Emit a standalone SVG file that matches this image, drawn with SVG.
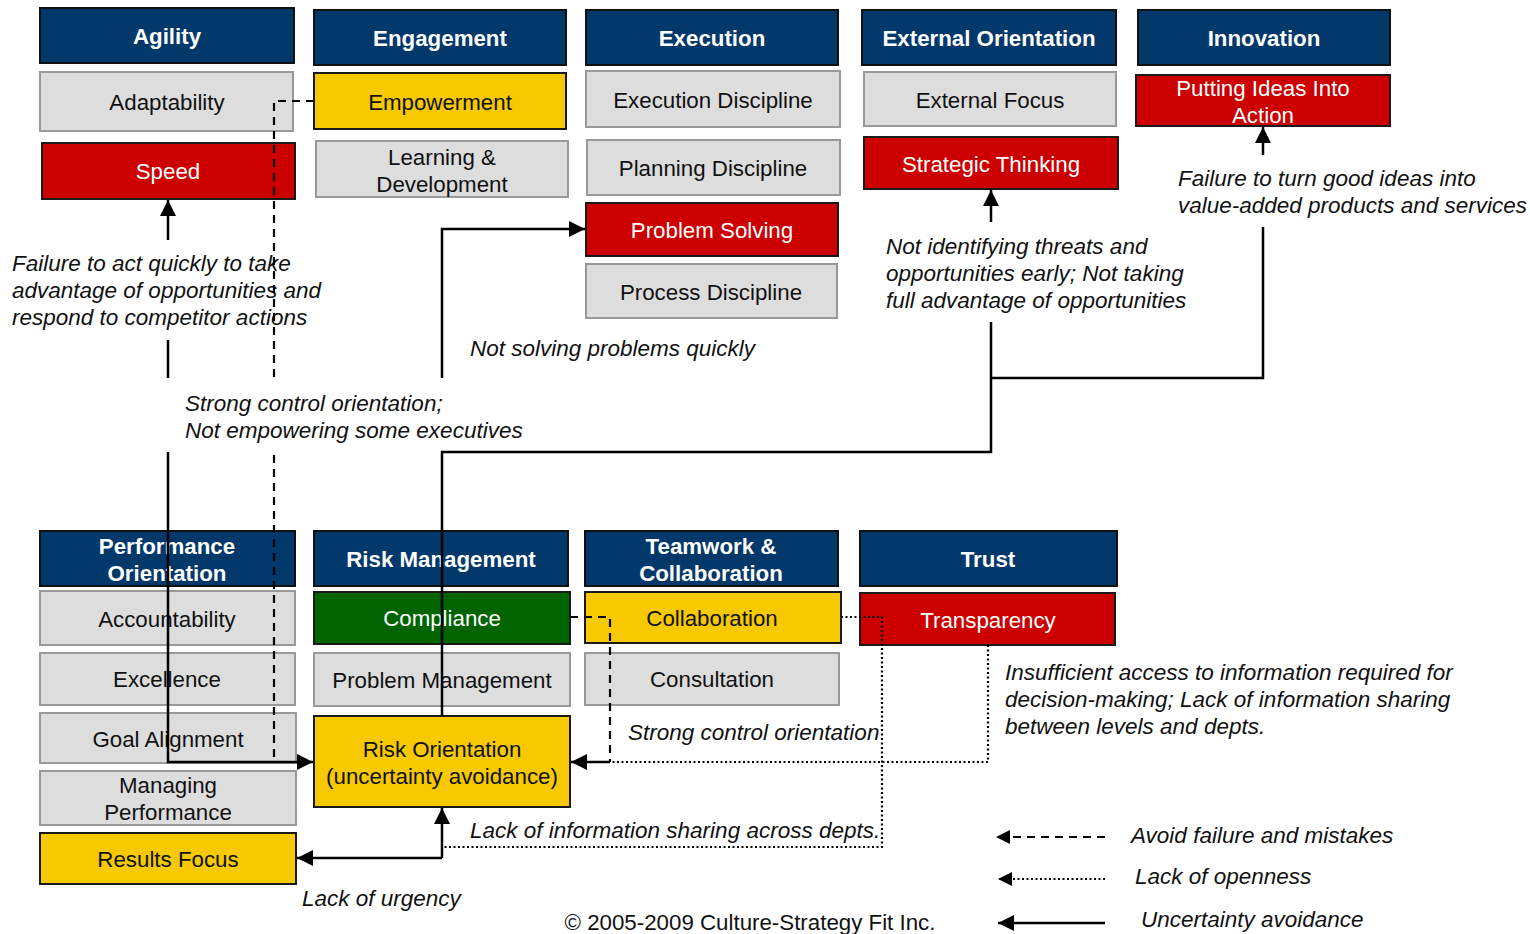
<svg xmlns="http://www.w3.org/2000/svg" width="1530" height="934" viewBox="0 0 1530 934">
<defs>
<style>
.hd{fill:#03386A;stroke:#111;stroke-width:2}
.gr{fill:#DDDDDD;stroke:#999;stroke-width:2}
.rd{fill:#CC0000;stroke:#1a1a1a;stroke-width:2}
.yl{fill:#F7C900;stroke:#1a1a1a;stroke-width:2}
.gn{fill:#006400;stroke:#1a1a1a;stroke-width:2}
text{font-family:"Liberation Sans",Arial,sans-serif;font-size:22.3px}
.ht{fill:#fff;font-weight:bold;text-anchor:middle}
.wt{fill:#fff;text-anchor:middle}
.bt{fill:#111;text-anchor:middle}
.it{fill:#111;font-style:italic;font-size:22.5px}
.sol{fill:none;stroke:#000;stroke-width:2.5}
.dsh{fill:none;stroke:#000;stroke-width:2.2;stroke-dasharray:8,6}
.dot{fill:none;stroke:#000;stroke-width:2.2;stroke-dasharray:2,2.5}
</style>
<marker id="ah" viewBox="0 0 10 10" refX="10" refY="5" markerWidth="6.5" markerHeight="6.5" markerUnits="strokeWidth" orient="auto">
<path d="M0,0 L10,5 L0,10 z" fill="#000"/>
</marker>
</defs>
<rect width="1530" height="934" fill="#fff"/>

<g id="agility"><rect class="hd" x="40" y="8" width="254" height="55"/><text class="ht" x="167" y="44">Agility</text></g>
<g id="engagement"><rect class="hd" x="314" y="10" width="252" height="55"/><text class="ht" x="440" y="46">Engagement</text></g>
<g id="execution"><rect class="hd" x="586" y="10" width="252" height="55"/><text class="ht" x="712" y="46">Execution</text></g>
<g id="external-orientation"><rect class="hd" x="862" y="10" width="254" height="55"/><text class="ht" x="989" y="46">External Orientation</text></g>
<g id="innovation"><rect class="hd" x="1138" y="10" width="252" height="55"/><text class="ht" x="1264" y="46">Innovation</text></g>

<g id="adaptability"><rect class="gr" x="40" y="72" width="253" height="59"/><text class="bt" x="167" y="110">Adaptability</text></g>
<g id="empowerment"><rect class="yl" x="314" y="73" width="252" height="56"/><text class="bt" x="440" y="110">Empowerment</text></g>
<g id="execution-discipline"><rect class="gr" x="586" y="71" width="254" height="56"/><text class="bt" x="713" y="108">Execution Discipline</text></g>
<g id="external-focus"><rect class="gr" x="864" y="72" width="252" height="54"/><text class="bt" x="990" y="108">External Focus</text></g>
<g id="putting-ideas"><rect class="rd" x="1136" y="75" width="254" height="51"/><text class="wt" x="1263" y="96">Putting Ideas Into</text><text class="wt" x="1263" y="123">Action</text></g>

<g id="speed"><rect class="rd" x="42" y="143" width="253" height="56"/><text class="wt" x="168" y="179">Speed</text></g>
<g id="learning"><rect class="gr" x="316" y="141" width="252" height="56"/><text class="bt" x="442" y="165">Learning &amp;</text><text class="bt" x="442" y="192">Development</text></g>
<g id="planning-discipline"><rect class="gr" x="587" y="140" width="253" height="55"/><text class="bt" x="713" y="176">Planning Discipline</text></g>
<g id="strategic-thinking"><rect class="rd" x="864" y="137" width="254" height="52"/><text class="wt" x="991" y="172">Strategic Thinking</text></g>
<g id="problem-solving"><rect class="rd" x="586" y="203" width="252" height="53"/><text class="wt" x="712" y="238">Problem Solving</text></g>
<g id="process-discipline"><rect class="gr" x="586" y="264" width="251" height="54"/><text class="bt" x="711" y="300">Process Discipline</text></g>

<g id="performance-orientation"><rect class="hd" x="40" y="531" width="255" height="55"/><text class="ht" x="167" y="554">Performance</text><text class="ht" x="167" y="581">Orientation</text></g>
<g id="risk-management"><rect class="hd" x="314" y="531" width="254" height="55"/><text class="ht" x="441" y="567">Risk Management</text></g>
<g id="teamwork"><rect class="hd" x="585" y="531" width="253" height="55"/><text class="ht" x="711" y="554">Teamwork &amp;</text><text class="ht" x="711" y="581">Collaboration</text></g>
<g id="trust"><rect class="hd" x="860" y="531" width="257" height="55"/><text class="ht" x="988" y="567">Trust</text></g>

<g id="accountability"><rect class="gr" x="40" y="591" width="255" height="54"/><text class="bt" x="167" y="627">Accountability</text></g>
<g id="compliance"><rect class="gn" x="314" y="592" width="256" height="52"/><text class="wt" x="442" y="626">Compliance</text></g>
<g id="collaboration"><rect class="yl" x="585" y="592" width="256" height="51"/><text class="bt" x="712" y="626">Collaboration</text></g>
<g id="transparency"><rect class="rd" x="860" y="593" width="255" height="52"/><text class="wt" x="988" y="628">Transparency</text></g>

<g id="excellence"><rect class="gr" x="40" y="653" width="255" height="52"/><text class="bt" x="167" y="687">Excellence</text></g>
<g id="problem-management"><rect class="gr" x="314" y="653" width="256" height="53"/><text class="bt" x="442" y="688">Problem Management</text></g>
<g id="consultation"><rect class="gr" x="585" y="653" width="254" height="52"/><text class="bt" x="712" y="687">Consultation</text></g>

<g id="goal-alignment"><rect class="gr" x="40" y="713" width="256" height="50"/><text class="bt" x="168" y="747">Goal Alignment</text></g>
<g id="risk-orientation"><rect class="yl" x="314" y="716" width="256" height="91"/><text class="bt" x="442" y="757">Risk Orientation</text><text class="bt" x="442" y="784">(uncertainty avoidance)</text></g>
<g id="managing-performance"><rect class="gr" x="40" y="771" width="256" height="54"/><text class="bt" x="168" y="793">Managing</text><text class="bt" x="168" y="820">Performance</text></g>
<g id="results-focus"><rect class="yl" x="40" y="833" width="256" height="51"/><text class="bt" x="168" y="867">Results Focus</text></g>

<g id="labels">
<text class="it" x="12" y="271">Failure to act quickly to take</text>
<text class="it" x="12" y="298">advantage of opportunities and</text>
<text class="it" x="12" y="325">respond to competitor actions</text>
<text class="it" x="185" y="411">Strong control orientation;</text>
<text class="it" x="185" y="438">Not empowering some executives</text>
<text class="it" x="470" y="356">Not solving problems quickly</text>
<text class="it" x="886" y="254">Not identifying threats and</text>
<text class="it" x="886" y="281">opportunities early; Not taking</text>
<text class="it" x="886" y="308">full advantage of opportunities</text>
<text class="it" x="1178" y="186">Failure to turn good ideas into</text>
<text class="it" x="1178" y="213">value-added products and services</text>
<text class="it" x="1005" y="680">Insufficient access to information required for</text>
<text class="it" x="1005" y="707">decision-making; Lack of information sharing</text>
<text class="it" x="1005" y="734">between levels and depts.</text>
<text class="it" x="628" y="740">Strong control orientation</text>
<text class="it" x="470" y="838">Lack of information sharing across depts.</text>
<text class="it" x="302" y="906">Lack of urgency</text>
<text class="it" x="1131" y="843">Avoid failure and mistakes</text>
<text class="it" x="1135" y="884">Lack of openness</text>
<text class="it" x="1141" y="927">Uncertainty avoidance</text>
<text x="750" y="930" text-anchor="middle" fill="#111">© 2005-2009 Culture-Strategy Fit Inc.</text>
</g>

<g id="connectors">
<path class="sol" d="M168,240 V200" marker-end="url(#ah)"/>
<path class="sol" d="M168,340 V378"/>
<path class="sol" d="M168,452 V762 H313" marker-end="url(#ah)"/>
<path class="sol" d="M442,378 V229 H585" marker-end="url(#ah)"/>
<path class="sol" d="M442,716 V452 H991 V322"/>
<path class="sol" d="M991,222 V190" marker-end="url(#ah)"/>
<path class="sol" d="M991,378 H1263 V227"/>
<path class="sol" d="M1263,155 V127" marker-end="url(#ah)"/>
<path class="sol" d="M442,858 V808" marker-end="url(#ah)"/>
<path class="sol" d="M442,858 H297" marker-end="url(#ah)"/>
<path class="dsh" d="M314,101 H274 V378"/>
<path class="dsh" d="M274,455 V762"/>
<path class="dsh" d="M570,617 H610 V762"/>
<path class="sol" d="M610,762 H571" marker-end="url(#ah)"/>
<path class="dot" d="M988,645 V762 H610"/>
<path class="dot" d="M841,617 H882 V847 H442"/>
<path class="dsh" d="M1105,837 H996" marker-end="url(#ah)"/>
<path class="dot" d="M1105,879 H998" marker-end="url(#ah)"/>
<path class="sol" d="M1105,923 H998" marker-end="url(#ah)"/>
</g>
</svg>
